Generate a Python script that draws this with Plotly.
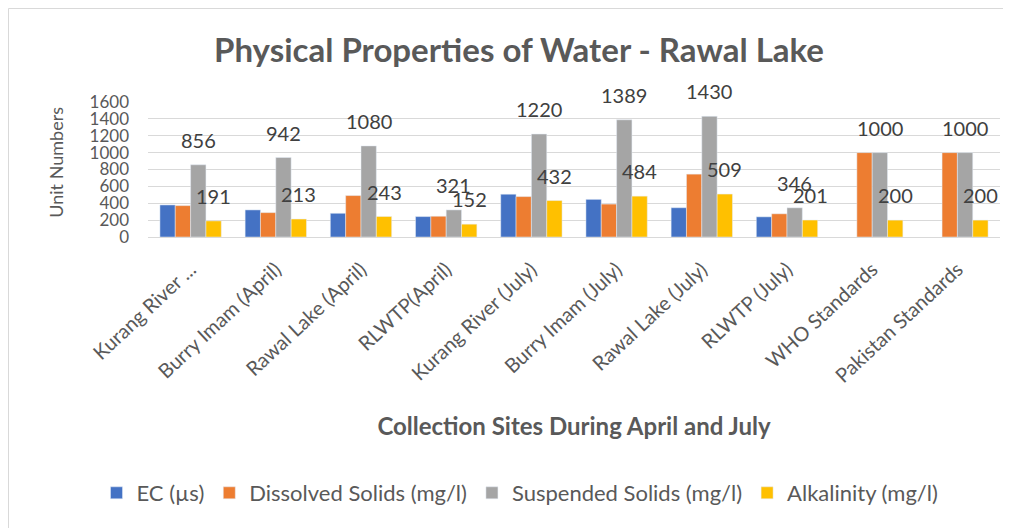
import plotly.graph_objects as go

sites = ["Kurang River ...", "Burry Imam (April)", "Rawal Lake (April)", "RLWTP(April)",
         "Kurang River (July)", "Burry Imam (July)", "Rawal Lake (July)", "RLWTP (July)",
         "WHO Standards", "Pakistan Standards"]
ec = [380, 321, 281, 242, 507, 446, 347, 239, None, None]
dissolved = [372, 289, 491, 246, 479, 390, 745, 275, 1000, 1000]
suspended = [856, 942, 1080, 321, 1220, 1389, 1430, 346, 1000, 1000]
alkalinity = [191, 213, 243, 152, 432, 484, 509, 201, 200, 200]
y_ticks = [0, 200, 400, 600, 800, 1000, 1200, 1400, 1600]

FONT = "Lato"
GREY = "#595959"
BARGAP = 0.28
NBARS = 4
bar_w = (1 - BARGAP) / NBARS

W, H = 1003, 520
ML, MR, MT, MB = 140, 11, 94, 291
PW, PH = W - ML - MR, H - MT - MB

fig = go.Figure()
fig.add_bar(name="EC (µs)", x=sites, y=ec, marker_color="#4472C4")
fig.add_bar(name="Dissolved Solids (mg/l)", x=sites, y=dissolved, marker_color="#ED7D31")
fig.add_bar(name="Suspended Solids (mg/l)", x=sites, y=suspended, marker_color="#A5A5A5")
fig.add_bar(name="Alkalinity (mg/l)", x=sites, y=alkalinity, marker_color="#FFC000")

# data labels for Suspended Solids (3rd bar) and Alkalinity (4th bar)
for series, idx in ((suspended, 2), (alkalinity, 3)):
    off = (idx - (NBARS - 1) / 2) * bar_w
    for i, v in enumerate(series):
        fig.add_annotation(x=i + off, y=v, xref="x", yref="y", text=str(v),
                           showarrow=False, yanchor="middle", yshift=25,
                           font=dict(size=20, color="#404040", family=FONT))

# y-axis title
fig.add_annotation(x=-92 / PW, y=0.55, xref="paper", yref="paper", text="Unit Numbers",
                   textangle=-90, showarrow=False, xanchor="center", yanchor="middle",
                   font=dict(size=18, color=GREY, family=FONT))

fig.update_layout(
    width=W, height=H,
    paper_bgcolor="white", plot_bgcolor="white",
    font=dict(family=FONT, color=GREY),
    title=dict(text="<b>Physical Properties of Water - Rawal Lake</b>",
               x=511 / W, xanchor="center", y=1 - 42 / H, yanchor="middle",
               font=dict(size=33, color=GREY, family=FONT)),
    barmode="group", bargap=BARGAP, bargroupgap=0,
    margin=dict(l=ML, r=MR, t=MT, b=MB, autoexpand=False),
    legend=dict(orientation="h", xref="container", x=512 / W, xanchor="center",
                y=-256 / PH, yanchor="middle",
                font=dict(size=22, color=GREY, family=FONT), traceorder="normal"),
    showlegend=True,
)
fig.update_yaxes(range=[0, 1600], tickvals=y_ticks, showgrid=True, gridcolor="#D9D9D9",
                 gridwidth=1, zeroline=False, showline=False, ticklabelstandoff=18,
                 tickfont=dict(size=17, color=GREY))
fig.update_xaxes(tickangle=-43, tickfont=dict(size=20, color=GREY),
                 showline=True, linecolor="#D9D9D9", ticklabelstandoff=12,
                 title=dict(text="<b>Collection Sites During April and July</b>",
                            font=dict(size=24, color=GREY), standoff=32))
fig.add_shape(type="rect", xref="paper", yref="paper",
              x0=(0.5 - ML) / PW, x1=(W + 10 - ML) / PW,
              y0=-(MB + 10) / PH, y1=1 + (MT - 0.5) / PH,
              line=dict(color="#D9D9D9", width=1), layer="below")
fig.write_html("out.html")
